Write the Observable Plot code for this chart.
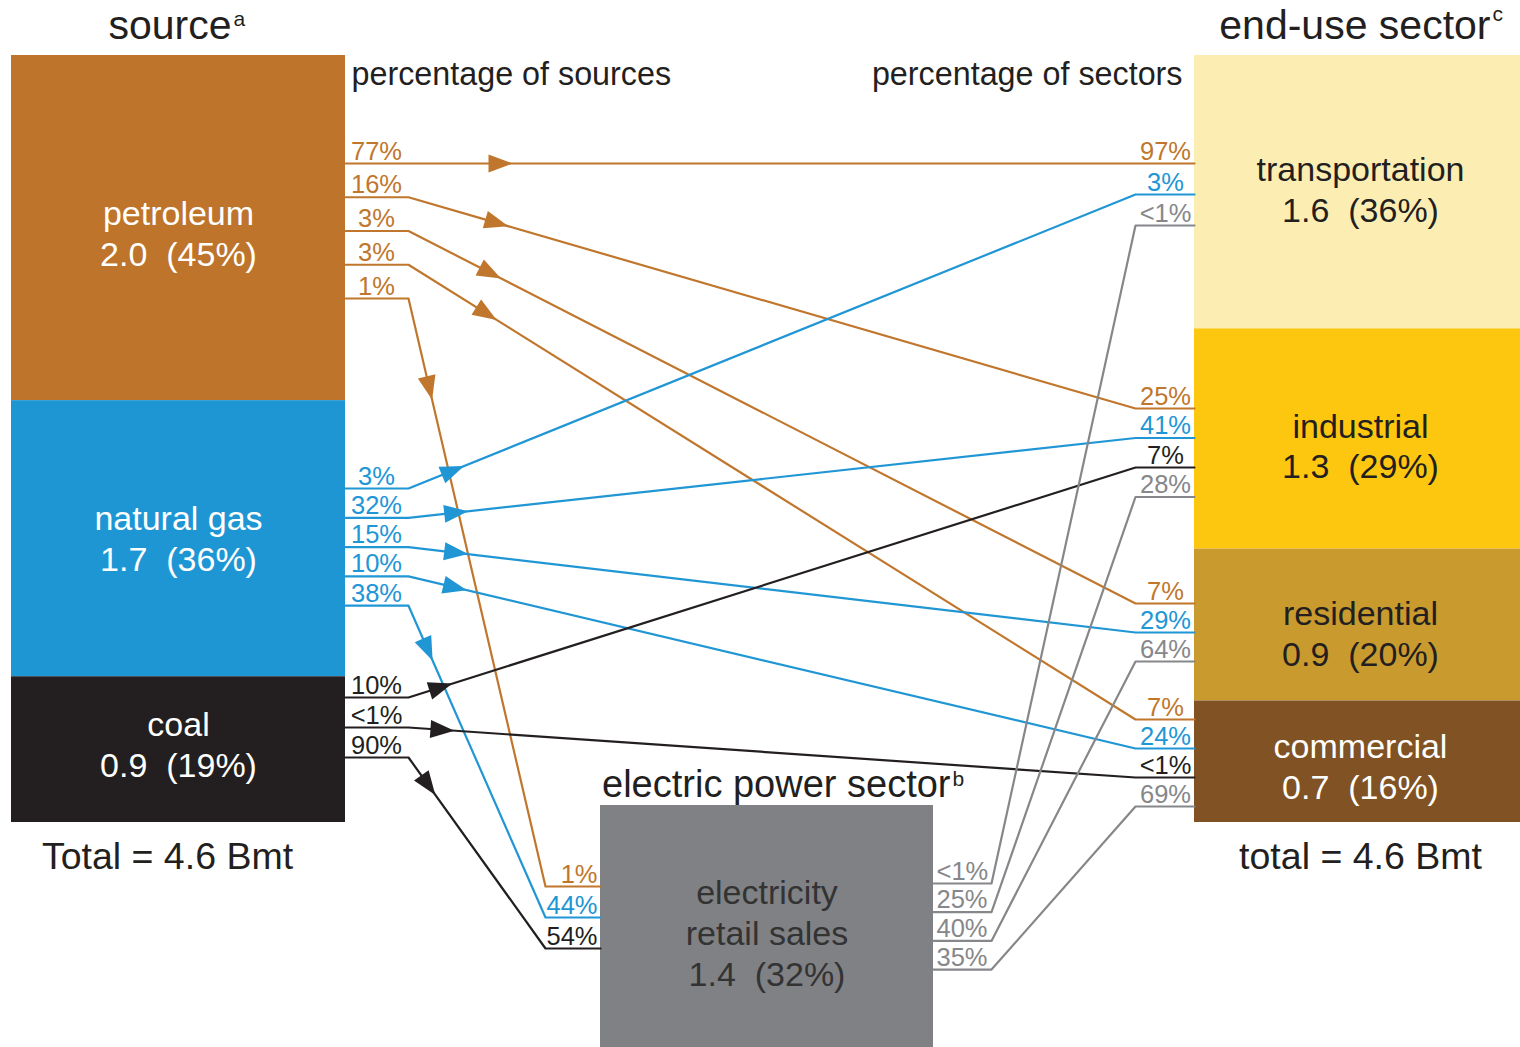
<!DOCTYPE html>
<html><head><meta charset="utf-8">
<script src="https://cdn.jsdelivr.net/npm/d3@7"></script>
<script src="https://cdn.jsdelivr.net/npm/@observablehq/plot@0.6"></script>
<style>html,body{margin:0;padding:0;background:#fff;} #chart{width:1520px;height:1047px;}</style>
</head><body><div id="chart"></div>
<script>
// ---------- DATA ----------
const sources = ["petroleum", "natural gas", "coal"];
const sourceValues = [2.0, 1.7, 0.9];
const sourcePct = [45, 36, 19];
const sectors = ["transportation", "industrial", "residential", "commercial"];
const sectorValues = [1.6, 1.3, 0.9, 0.7];
const sectorPct = [36, 29, 20, 16];
const electricName = "electricity";
const electricLabel = "electricity\nretail sales";
const electricValue = 1.4;
const electricPct = 32;
const sourceTotalText = "Total = 4.6 Bmt";
const sectorTotalText = "total = 4.6 Bmt";
const flowFrom = ["petroleum","petroleum","petroleum","petroleum","petroleum",
  "natural gas","natural gas","natural gas","natural gas","natural gas",
  "coal","coal","coal",
  "electricity","electricity","electricity","electricity"];
const flowTo = ["transportation","industrial","residential","commercial","electricity",
  "transportation","industrial","residential","commercial","electricity",
  "industrial","commercial","electricity",
  "transportation","industrial","residential","commercial"];
const flowShareOfSource = ["77%","16%","3%","3%","1%","3%","32%","15%","10%","38%","10%","<1%","90%","<1%","25%","40%","35%"];
const flowShareOfTarget = ["97%","25%","7%","7%","1%","3%","41%","29%","24%","44%","7%","<1%","54%","<1%","28%","64%","69%"];

// ---------- LAYOUT & STYLE ----------
const W = 1520, H = 1047;
const L = {
  top: 55, colSpan: 767,
  srcX0: 11, srcX1: 345, tgtX0: 1194, tgtX1: 1520,
  elecX0: 600, elecX1: 933, elecTop: 805,
  bendSrc: 408, bendTgt: 1135, bendElecIn: 545, bendElecOut: 991,
  srcLabelX: 376, tgtLabelX: 1165, elecInLabelX: 597, elecOutLabelX: 936,
  slots: {
    "petroleum": [163, 33.75], "natural gas": [488, 29.3], "coal": [697, 30],
    "transportation": [163, 31], "industrial": [408, 29.5], "residential": [603, 29], "commercial": [719, 29],
    "electricIn": [886, 31], "electricOut": [883, 28.7]
  },
  labelDy: {"petroleum": 4, "natural gas": -1, "coal": -6, "transportation": -4, "industrial": 6, "residential": 7, "commercial": 4, "electricity": 4},
  labelDx: {"petroleum": 0, "natural gas": 0, "coal": 0, "transportation": 3, "industrial": 3, "residential": 3, "commercial": 3, "electricity": 0},
  arrowDist: {"petroleum": 104, "natural gas": 60, "coal": 46}
};
const FONT = "'Liberation Sans', Arial, Helvetica, sans-serif";
const S = {
  nodeFill: {"petroleum":"#BE742A","natural gas":"#1F96D4","coal":"#231F20","transportation":"#FCEEB3","industrial":"#FEC70F","residential":"#C99A2E","commercial":"#815223","electricity":"#808184"},
  nodeText: {"petroleum":"#ffffff","natural gas":"#ffffff","coal":"#ffffff","transportation":"#231F20","industrial":"#231F20","residential":"#231F20","commercial":"#ffffff","electricity":"#333333"},
  flowColor: {"petroleum":"#C0772D","natural gas":"#2196D5","coal":"#231F20","electricity":"#86878A"},
  ink: "#231F20"
};

// ---------- BUILD ----------
const nodes = [];
{
  const k = L.colSpan / d3.sum(sourcePct);
  let cum = 0;
  sources.forEach((s, i) => {
    const y0 = L.top + cum * k; cum += sourcePct[i];
    nodes.push({name: s, x0: L.srcX0, x1: L.srcX1, y0, y1: L.top + cum * k,
      label: `${s}\n${sourceValues[i].toFixed(1)}\u00a0\u00a0(${sourcePct[i]}%)`});
  });
}
{
  const k = L.colSpan / d3.sum(sectorPct);
  let cum = 0;
  sectors.forEach((s, i) => {
    const y0 = L.top + cum * k; cum += sectorPct[i];
    nodes.push({name: s, x0: L.tgtX0, x1: L.tgtX1, y0, y1: L.top + cum * k,
      label: `${s}\n${sectorValues[i].toFixed(1)}\u00a0\u00a0(${sectorPct[i]}%)`});
  });
}
{
  const k = L.colSpan / d3.sum(sourcePct);
  nodes.push({name: electricName, x0: L.elecX0, x1: L.elecX1, y0: L.elecTop, y1: L.elecTop + electricPct * k,
    label: `${electricLabel}\n${electricValue.toFixed(1)}\u00a0\u00a0(${electricPct}%)`});
}
nodes.forEach(n => {
  n.fill = S.nodeFill[n.name];
  n.textColor = S.nodeText[n.name];
  n.cx = (n.x0 + n.x1) / 2 + L.labelDx[n.name];
  n.cy = (n.y0 + n.y1) / 2 + L.labelDy[n.name];
});

const outIdx = {}, inIdx = {};
const slotY = (key, idx) => L.slots[key][0] + idx * L.slots[key][1];
const points = [], arrows = [], labelsMid = [], labelsStart = [], labelsEnd = [];
flowFrom.forEach((from, i) => {
  const to = flowTo[i];
  const oi = outIdx[from] = (outIdx[from] ?? -1) + 1;
  const ii = inIdx[to] = (inIdx[to] ?? -1) + 1;
  const color = S.flowColor[from];
  const fromElec = from === electricName, toElec = to === electricName;
  const ys = slotY(fromElec ? "electricOut" : from, oi);
  const yt = slotY(toElec ? "electricIn" : to, ii);
  let pts;
  if (fromElec) pts = [[L.elecX1, ys], [L.bendElecOut, ys], [L.bendTgt, yt], [L.tgtX0, yt]];
  else if (toElec) pts = [[L.srcX1, ys], [L.bendSrc, ys], [L.bendElecIn, yt], [L.elecX0, yt]];
  else pts = [[L.srcX1, ys], [L.bendSrc, ys], [L.bendTgt, yt], [L.tgtX0, yt]];
  pts.forEach(([x, y]) => points.push({id: i, x, y, color}));
  if (!fromElec) {
    const [ax, ay] = pts[1], [bx, by] = pts[2];
    const len = Math.hypot(bx - ax, by - ay);
    const d = L.arrowDist[from];
    arrows.push({x: ax + (bx - ax) * d / len, y: ay + (by - ay) * d / len,
      angle: Math.atan2(by - ay, bx - ax) * 180 / Math.PI, color});
  }
  if (fromElec) labelsStart.push({x: L.elecOutLabelX, y: ys - 4, text: flowShareOfSource[i], color});
  else labelsMid.push({x: L.srcLabelX, y: ys - 4, text: flowShareOfSource[i], color});
  if (toElec) labelsEnd.push({x: L.elecInLabelX, y: yt - 4, text: flowShareOfTarget[i], color});
  else labelsMid.push({x: L.tgtLabelX, y: yt - 4, text: flowShareOfTarget[i], color});
});

const arrowSymbol = {
  draw(ctx) { ctx.moveTo(0, 0); ctx.lineTo(-24, -9); ctx.lineTo(-24, 9); ctx.closePath(); }
};

const titles = [
  {x: 231, y: 38, text: "source", size: 41},
  {x: 1490, y: 38, text: "end-use sector", size: 41},
  {x: 950, y: 796, text: "electric power sector", size: 38}
];
const sups = [
  {x: 233, y: 25, text: "a"}, {x: 1492, y: 20, text: "c"}, {x: 952, y: 785, text: "b"}
];

const chart = Plot.plot({
  width: W, height: H,
  margin: 0,
  x: {domain: [0, W], range: [0, W], axis: null},
  y: {domain: [0, H], range: [0, H], axis: null},
  color: {type: "identity"},
  style: {fontFamily: FONT, background: "#ffffff"},
  marks: [
    Plot.rect(nodes, {x1: "x0", x2: "x1", y1: "y0", y2: "y1", fill: "fill"}),
    Plot.line(points, {x: "x", y: "y", z: "id", stroke: "color", strokeWidth: 2.2, curve: "linear"}),
    Plot.dot(arrows, {x: "x", y: "y", rotate: "angle", symbol: arrowSymbol, fill: "color", stroke: "none", r: 10}),
    Plot.text(nodes, {x: "cx", y: "cy", text: "label", fill: "textColor", fontSize: 34, lineHeight: 1.2, lineAnchor: "middle"}),
    Plot.text(labelsMid, {x: "x", y: "y", text: "text", fill: "color", fontSize: 25.5, textAnchor: "middle", lineAnchor: "bottom"}),
    Plot.text(labelsStart, {x: "x", y: "y", text: "text", fill: "color", fontSize: 25.5, textAnchor: "start", lineAnchor: "bottom"}),
    Plot.text(labelsEnd, {x: "x", y: "y", text: "text", fill: "color", fontSize: 25.5, textAnchor: "end", lineAnchor: "bottom"}),
    Plot.text(titles, {x: "x", y: "y", text: "text", fill: S.ink, fontSize: "size", textAnchor: "end", lineAnchor: "bottom"}),
    Plot.text(sups, {x: "x", y: "y", text: "text", fill: S.ink, fontSize: 21, textAnchor: "start", lineAnchor: "bottom"}),
    Plot.text(["percentage of sources"], {x: L.srcX1 + 6, y: 84, text: d => d, fill: S.ink, fontSize: 32.3, textAnchor: "start", lineAnchor: "bottom"}),
    Plot.text(["percentage of sectors"], {x: L.tgtX0 - 12, y: 84, text: d => d, fill: S.ink, fontSize: 32.3, textAnchor: "end", lineAnchor: "bottom"}),
    Plot.text([sourceTotalText], {x: 167, y: 868, text: d => d, fill: S.ink, fontSize: 37.5, textAnchor: "middle", lineAnchor: "bottom"}),
    Plot.text([sectorTotalText], {x: 1360, y: 868, text: d => d, fill: S.ink, fontSize: 37.5, textAnchor: "middle", lineAnchor: "bottom"})
  ]
});
document.getElementById("chart").appendChild(chart);
</script>
</body></html>
